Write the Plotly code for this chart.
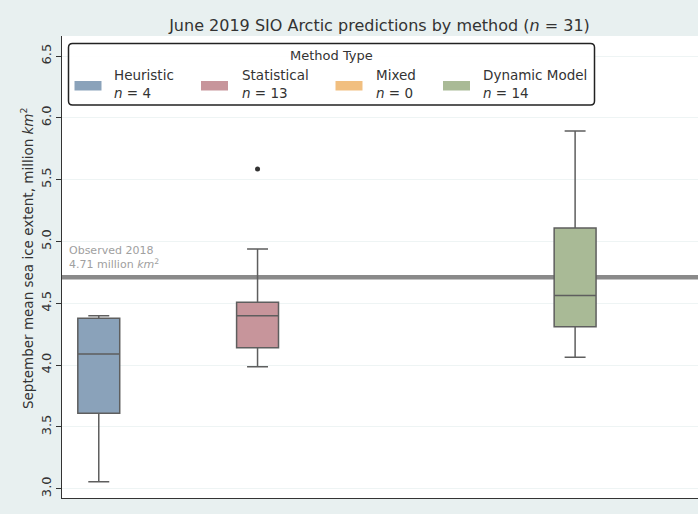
import plotly.graph_objects as go

# Forecast methods and the number of submissions in each
methods = ["Heuristic", "Statistical", "Mixed", "Dynamic Model"]
counts = [4, 13, 0, 14]
colors = ["#8aa2ba", "#c7959b", "#f1bf80", "#a9ba96"]

# Box statistics of September extent forecasts (million km²); Mixed has none
lower_whisker = [3.057, 3.987, None, 4.063]
q1 = [3.610, 4.141, None, 4.311]
median = [4.090, 4.400, None, 4.562]
q3 = [4.379, 4.508, None, 5.109]
upper_whisker = [4.400, 4.939, None, 5.894]

# Points beyond the whiskers
outlier_method = ["Statistical"]
outlier_values = [5.587]

observed_2018 = 4.71
total_n = 31
y_ticks = [3.0, 3.5, 4.0, 4.5, 5.0, 5.5, 6.0, 6.5]

W, H = 698, 514
L, R, T, B = 62, 0, 36, 16
PW, PH = W - L - R, H - T - B


def px(x):
    return (x - L) / PW


def py(y):
    return (H - B - y) / PH


fig = go.Figure()

for i, m in enumerate(methods):
    if counts[i] == 0:
        continue
    fig.add_trace(go.Box(
        x=[i], q1=[q1[i]], median=[median[i]], q3=[q3[i]],
        lowerfence=[lower_whisker[i]], upperfence=[upper_whisker[i]],
        name=m, fillcolor=colors[i],
        line=dict(color="#5e5e5e", width=1.5),
        width=0.264, whiskerwidth=0.5, boxpoints=False,
        showlegend=False, hoverinfo="skip",
    ))

fig.add_trace(go.Scatter(
    x=[methods.index(m) for m in outlier_method], y=outlier_values,
    mode="markers", marker=dict(color="#333333", size=5),
    showlegend=False, hoverinfo="skip",
))

shapes = [
    dict(type="line", xref="paper", yref="y", x0=0, x1=1,
         y0=observed_2018, y1=observed_2018,
         line=dict(color="#8a8a8a", width=4.5), layer="below"),
]

annotations = [
    dict(xref="paper", yref="y", x=px(67), y=observed_2018,
         xanchor="left", yanchor="bottom", yshift=4, align="left",
         showarrow=False,
         text=f"Observed 2018<br>{observed_2018:.2f} million <i>km</i><sup>2</sup>",
         font=dict(size=11, color="#a0a0a0")),
    # y-axis title
    dict(xref="paper", yref="paper", x=px(27), y=py(258),
         xanchor="center", yanchor="middle", textangle=-90, showarrow=False,
         text="September mean sea ice extent, million <i>km</i><sup>2</sup>",
         font=dict(size=13.5, color="#333333")),
]

# Legend box with rounded corners
x0, x1, y0, y1 = px(68.5), px(594.5), py(43.5), py(105)
rx, ry = 4 / PW, 4 / PH
path = (f"M {x0+rx},{y0} L {x1-rx},{y0} Q {x1},{y0} {x1},{y0-ry} "
        f"L {x1},{y1+ry} Q {x1},{y1} {x1-rx},{y1} "
        f"L {x0+rx},{y1} Q {x0},{y1} {x0},{y1+ry} "
        f"L {x0},{y0-ry} Q {x0},{y0} {x0+rx},{y0} Z")
shapes.append(dict(type="path", xref="paper", yref="paper", path=path,
                   line=dict(color="#222222", width=1.5),
                   fillcolor="rgba(255,255,255,0.9)", layer="above"))

annotations.append(dict(xref="paper", yref="paper", x=px(331), y=py(56),
                        xanchor="center", yanchor="middle", showarrow=False,
                        text="Method Type", font=dict(size=13, color="#333333")))

patch_x = [74.5, 201, 335.5, 443]
text_x = [112, 239.5, 373.5, 480.5]
for i, m in enumerate(methods):
    shapes.append(dict(type="rect", xref="paper", yref="paper",
                       x0=px(patch_x[i]), x1=px(patch_x[i] + 27),
                       y0=py(81), y1=py(90.5),
                       fillcolor=colors[i], line=dict(width=0), layer="above"))
    annotations.append(dict(xref="paper", yref="paper", x=px(text_x[i]), y=py(84),
                            xanchor="left", yanchor="middle", align="left",
                            showarrow=False,
                            text=f"{m}<br><i>n</i> = {counts[i]}",
                            font=dict(size=13.5, color="#333333")))

fig.update_layout(
    width=W, height=H,
    margin=dict(l=L, r=R, t=T, b=B, pad=0),
    paper_bgcolor="#e8f0f0",
    plot_bgcolor="#ffffff",
    font=dict(family="DejaVu Sans", color="#333333"),
    title=dict(text=f"June 2019 SIO Arctic predictions by method (<i>n</i> = {total_n})",
               x=379.5 / W, xanchor="center", y=1 - 25 / H, yanchor="middle",
               font=dict(size=16, color="#333333")),
    shapes=shapes,
    annotations=annotations,
    xaxis=dict(range=[-0.2316, 3.774], showticklabels=False, ticks="",
               showgrid=False, zeroline=False, showline=True,
               linecolor="#333333", linewidth=1.2),
    yaxis=dict(range=[2.925, 6.662], tickvals=y_ticks,
               ticktext=[f"{v:.1f}" for v in y_ticks], tickangle=-90,
               ticks="outside", ticklen=5, tickcolor="#333333",
               tickfont=dict(size=13, color="#333333"),
               showgrid=True, gridcolor="#eef4f4", gridwidth=1,
               zeroline=False, showline=True, linecolor="#333333", linewidth=1.2),
)

fig.write_html("out.html")
